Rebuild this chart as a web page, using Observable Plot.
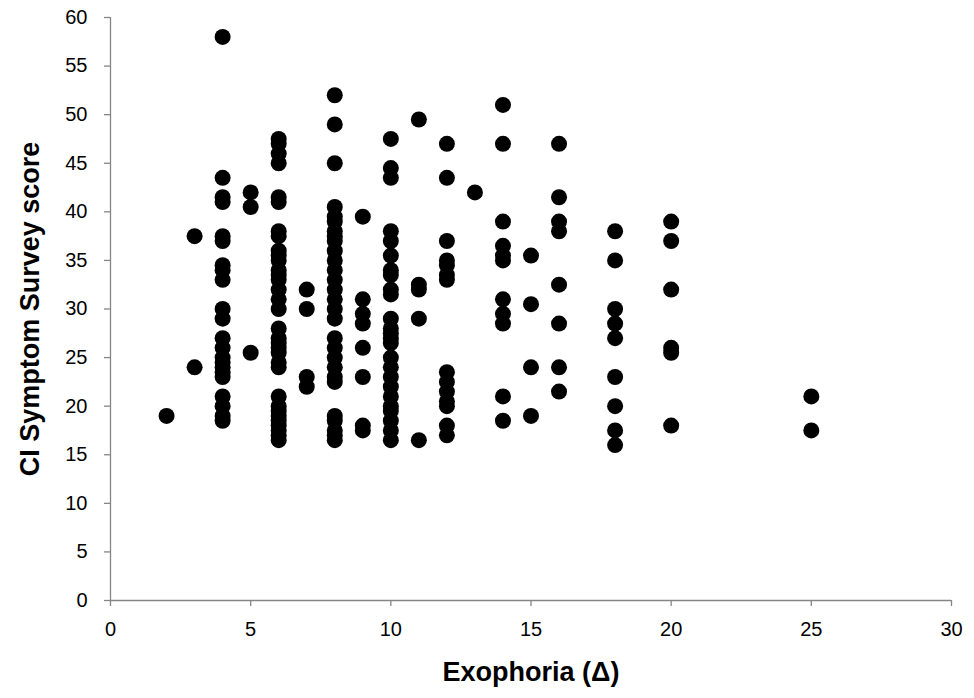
<!DOCTYPE html>
<html>
<head>
<meta charset="utf-8">
<script src="https://cdn.jsdelivr.net/npm/d3@7"></script>
<script src="https://cdn.jsdelivr.net/npm/@observablehq/plot@0.6"></script>
<style>
  html, body { margin: 0; padding: 0; background: #fff; }
  #chart svg { display: block; }
</style>
</head>
<body>
<div id="chart"></div>
<script>
// Exophoria (prism diopters) and CI Symptom Survey scores, grouped by exophoria value
const exo2 = [19];
const exo3 = [37.5, 24];
const exo4 = [58, 43.5, 41.5, 41, 37.5, 37, 34.5, 34, 33, 30, 29, 27, 26, 25, 24.5, 24, 23.5, 23, 21, 20, 19, 18.5];
const exo5 = [42, 40.5, 25.5];
const exo6 = [47.5, 47, 46, 45, 41.5, 41, 38, 37.5, 36, 35.5, 35, 34, 33.5, 33, 32, 31, 30, 28, 27, 26.5, 26, 25.5, 24.5, 24, 21, 20, 19.5, 19, 18.5, 18, 17.5, 17, 16.5];
const exo7 = [32, 30, 23, 22];
const exo8 = [52, 49, 45, 40.5, 39.5, 39, 38, 37.5, 37, 36, 35, 34, 33, 32, 31, 30, 29, 27, 26, 25, 24, 23, 22.5, 19, 18.5, 17.5, 17, 16.5];
const exo9 = [39.5, 31, 29.5, 28.5, 26, 23, 18, 17.5];
const exo10 = [47.5, 44.5, 43.5, 38, 37, 35.5, 34, 33.5, 32, 31.5, 29, 28, 27.5, 27, 26.5, 25, 24, 23, 22, 21, 20, 19.5, 18.5, 17.5, 16.5];
const exo11 = [49.5, 32.5, 32, 29, 16.5];
const exo12 = [47, 43.5, 37, 35, 34.5, 33.5, 33, 23.5, 22.5, 21.5, 20.5, 20, 18, 17];
const exo13 = [42];
const exo14 = [51, 47, 39, 36.5, 35.5, 35, 31, 29.5, 28.5, 21, 18.5];
const exo15 = [35.5, 30.5, 24, 19];
const exo16 = [47, 41.5, 39, 38, 32.5, 28.5, 24, 21.5];
const exo18 = [38, 35, 30, 28.5, 27, 23, 20, 17.5, 16];
const exo20 = [39, 37, 32, 26, 25.5, 18];
const exo25 = [21, 17.5];

const groups = [
  [2, exo2], [3, exo3], [4, exo4], [5, exo5], [6, exo6], [7, exo7], [8, exo8],
  [9, exo9], [10, exo10], [11, exo11], [12, exo12], [13, exo13], [14, exo14],
  [15, exo15], [16, exo16], [18, exo18], [20, exo20], [25, exo25]
];

const xTicks = [0, 5, 10, 15, 20, 25, 30];
const yTicks = [0, 5, 10, 15, 20, 25, 30, 35, 40, 45, 50, 55, 60];
const xTitle = "Exophoria (Δ)";
const yTitle = "CI Symptom Survey score";

const data = groups.flatMap(([x, ys]) => ys.map(y => ({x, y})));

const axisColor = "#868686";
const font = "'Liberation Sans', Arial, Helvetica, sans-serif";

const chart = Plot.plot({
  width: 974,
  height: 698,
  marginLeft: 110,
  marginRight: 23,
  marginTop: 17,
  marginBottom: 98,
  style: {fontFamily: font, color: "#000", background: "#fff", overflow: "visible"},
  x: {domain: [0, 30]},
  y: {domain: [0, 60]},
  marks: [
    Plot.ruleY([0], {stroke: axisColor, strokeWidth: 1.3}),
    Plot.ruleX([0], {stroke: axisColor, strokeWidth: 1.3}),
    Plot.axisX({ticks: xTicks, tickSize: 6, tickPadding: 15, stroke: axisColor, strokeWidth: 1.3, fontSize: 20, label: null}),
    Plot.axisY({ticks: yTicks, tickSize: 6, tickPadding: 17, stroke: axisColor, strokeWidth: 1.3, fontSize: 20, label: null}),
    Plot.dot(data, {x: "x", y: "y", r: 8, fill: "#000", stroke: "none"}),
    Plot.text([xTitle], {frameAnchor: "bottom", textAnchor: "middle", dy: 80, fontSize: 27, fontWeight: "bold", fill: "#000"}),
    Plot.text([yTitle], {frameAnchor: "left", textAnchor: "middle", dx: -80, rotate: -90, fontSize: 27, fontWeight: "bold", fill: "#000"})
  ]
});

document.getElementById("chart").appendChild(chart);
</script>
</body>
</html>
